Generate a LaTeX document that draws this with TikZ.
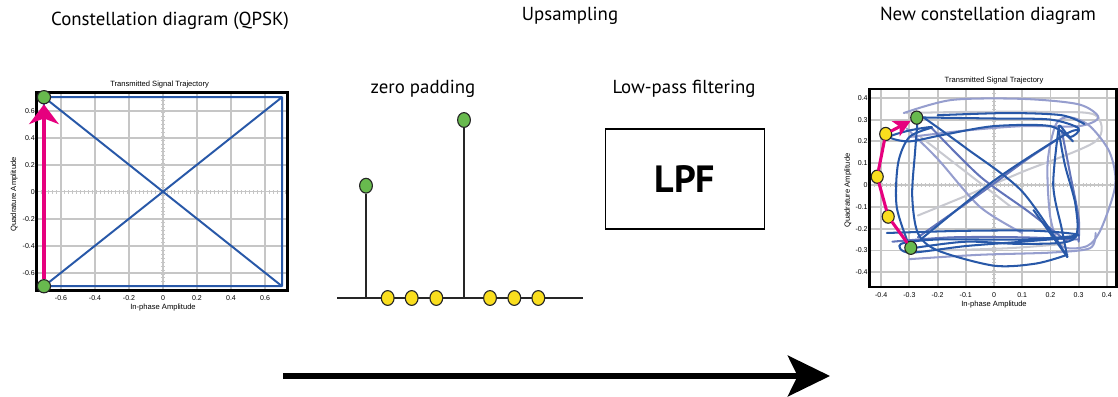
\documentclass[tikz,border=0pt]{standalone}
\usepackage{fontspec}
\setmainfont{PT Sans}
\newfontfamily\plotfont{Liberation Sans}
\usetikzlibrary{arrows.meta,shapes.geometric,positioning}

% colours
\definecolor{trajblue}{RGB}{40,88,168}
\definecolor{trajmid}{RGB}{98,116,186}
\definecolor{trajpale}{RGB}{150,158,206}
\definecolor{trajgrey}{RGB}{200,201,208}
\definecolor{gridgrey}{RGB}{198,198,198}
\definecolor{symgreen}{RGB}{104,186,78}
\definecolor{padyellow}{RGB}{250,222,30}
\definecolor{pathpink}{RGB}{230,0,126}

\tikzset{
 title/.style
  = {font=\fontsize{13.4}{15}\selectfont, inner sep=0pt},
 tick/.style
  = {font=\plotfont\fontsize{5}{6}\selectfont, inner sep=0pt},
 axlabel/.style
  = {font=\plotfont\fontsize{5.4}{6}\selectfont, inner sep=0pt},
 gridline/.style
  = {gridgrey, line width=1.3pt},
 zeroline/.style
  = {gridgrey, line width=2.6pt, dash pattern=on 0.7pt off 2.1pt},
 frame/.style
  = {line width=2pt, black},
 sym/.style
  = {ellipse, draw=black!85, line width=0.8pt, fill=symgreen, inner sep=0pt,
     minimum width=0.32cm, minimum height=0.37cm},
 pad/.style
  = {sym, fill=padyellow},
 stem/.style
  = {line width=1.1pt, black!85},
 traj/.style
  = {line width=1.45pt, line join=round, line cap=round},
 pinkpath/.style
  = {pathpink, line width=2.2pt, line cap=round, line join=round},
 flow/.style
  = {line width=3.9pt, -{Stealth[length=30pt, width=29pt, inset=7pt]}},
}

\begin{document}
\begin{tikzpicture}[x=0.025cm, y=-0.025cm]
\useasboundingbox (0,0) rectangle (1118,396);

% Headings
\node[title] (hqpsk) at (170,21) {Constellation diagram (QPSK)};
\node[title] (hup) at (570,16) {Upsampling};
\node[title] (hnew) at (988,16) {New constellation diagram};
\node[title] (hzero) at (423,89) {zero padding};
\node[title] (hlpf) at (684,89) {Low-pass filtering};

% QPSK trajectory plot
\begin{scope}[shift={(163,191.7)}, x=4.25cm, y=3.375cm]
  \foreach \v in {-0.6,-0.4,-0.2,0.2,0.4,0.6} {
    \draw[gridline] (\v,-0.73) -- (\v,0.735);
    \draw[gridline] (-0.743,\v) -- (0.73,\v);
  }
  \draw[gridgrey, line width=1pt] (0,-0.73) -- (0,0.735) (-0.743,0) -- (0.73,0);
  \draw[zeroline] (0,-0.73) -- (0,0.735);
  \draw[zeroline] (-0.743,0) -- (0.73,0);
  \draw[traj, trajblue, line width=1.4pt, line cap=butt]
    (-0.7,-0.7) rectangle (0.7,0.7)
    (-0.7,-0.7) -- (0.7,0.7) (-0.7,0.7) -- (0.7,-0.7);
  \draw[frame] (-0.743,-0.73) rectangle (0.73,0.735);
  \foreach \v [count=\i] in {-0.6,-0.4,-0.2,0,0.2,0.4,0.6} {
    \node[tick] (qx\i) at (\v,-0.787) {\v};
    \node[tick, anchor=east] (qy\i) at (-0.752,\v) {\v};
  }
  \node[axlabel] (qtitle) at (-0.02,0.797) {Transmitted Signal Trajectory};
  \node[axlabel] (qxlab) at (0,-0.855) {In-phase Amplitude};
  \node[axlabel, rotate=90] (qylab) at (-0.876,-0.02) {Quadrature Amplitude};
  % symbols
  \node[sym, minimum width=0.33cm, minimum height=0.33cm] (qlo) at (-0.7,-0.7) {};
  \node[sym, minimum width=0.33cm, minimum height=0.33cm] (qhi) at (-0.7,0.7) {};
  \draw[pinkpath, line width=2.8pt, line cap=butt,
        -{Stealth[length=14pt, width=21pt, inset=4pt]}] (qlo) -- (qhi);
\end{scope}

% Zero padding
\coordinate (zstart) at (337,298);
\coordinate (zend) at (583,298);
\draw[stem] (zstart) -- (zend);
\node[sym] (up1) at (366,185.7) {};
\node[sym] (up2) at (464,120) {};
\coordinate (up1base) at (366,298);
\coordinate (up2base) at (464,298);
\draw[stem] (up1base) -- (up1);
\draw[stem] (up2base) -- (up2);
\foreach \x [count=\i] in {387.7,411.7,436.3,490,514.3,538.3}
  \node[pad] (zp\i) at (\x,298) {};

% Filter block
\node[draw, line width=1pt, minimum width=3.965cm, minimum height=2.5cm,
      font=\bfseries\fontsize{27}{30}\selectfont] (lpf) at (685,179) {LPF};

% Filtered trajectory plot
\begin{scope}[shift={(994,185)}, x=7.05cm, y=5.45cm]
  \foreach \v in {-0.4,-0.3,-0.2,-0.1,0.1,0.2,0.3,0.4} {
    \draw[gridline] (\v,-0.468) -- (\v,0.44);
    \draw[gridline] (-0.44,\v) -- (0.433,\v);
  }
  \draw[gridgrey, line width=1pt] (0,-0.468) -- (0,0.44) (-0.44,0) -- (0.433,0);
  \draw[zeroline] (0,-0.468) -- (0,0.44);
  \draw[zeroline] (-0.44,0) -- (0.433,0);
  \begin{scope}
    \clip (-0.44,-0.468) rectangle (0.433,0.44);
    % faint passes
    \draw[traj, trajgrey] plot[smooth] coordinates {(-0.31,0.33) (-0.1,0.335) (0.2,0.335) (0.36,0.32) (0.36,0.2) (0.1,0.06) (-0.1,-0.05) (-0.27,-0.14)};
    \draw[traj, trajgrey] plot[smooth] coordinates {(-0.26,0.22) (-0.12,0.08) (0.06,-0.1)};
    \draw[traj, trajgrey] plot[smooth] coordinates {(-0.2,-0.3) (0.05,-0.29) (0.25,-0.27)};
    \draw[traj, trajpale] plot[smooth] coordinates {(-0.32,0.33) (-0.15,0.39) (0.1,0.395) (0.3,0.37) (0.37,0.31) (0.3,0.27) (0.1,0.27) (-0.1,0.25) (-0.3,0.22)};
    \draw[traj, trajpale] plot[smooth cycle] coordinates {(0.22,0.28) (0.19,0.1) (0.2,-0.15) (0.24,-0.28) (0.33,-0.28) (0.38,-0.2) (0.43,0) (0.41,0.15) (0.34,0.27) (0.27,0.31)};
    \draw[traj, trajpale] plot[smooth] coordinates {(-0.3,-0.34) (-0.05,-0.32) (0.2,-0.31) (0.34,-0.29) (0.36,-0.22)};
    \draw[traj, trajpale] plot[smooth] coordinates {(-0.31,0.26) (-0.2,0.12) (-0.05,-0.1) (0.1,-0.22)};
    \draw[traj, trajmid] plot[smooth] coordinates {(-0.27,-0.24) (-0.05,-0.04) (0.12,0.12) (0.25,0.23)};
    \draw[traj, trajmid] plot[smooth] coordinates {(-0.22,0.26) (-0.05,0.04) (0.12,-0.12) (0.26,-0.26)};
    \draw[traj, trajmid] plot[smooth] coordinates {(-0.36,-0.26) (-0.15,-0.24) (0.1,-0.24) (0.3,-0.25)};
    \draw[traj, trajmid] plot[smooth] coordinates {(0.24,0.25) (0.27,0.05) (0.3,-0.15) (0.3,-0.26)};
    % dominant passes
    \draw[traj, trajblue] plot[smooth] coordinates {(-0.27,0.31) (0,0.305) (0.2,0.30) (0.3,0.26) (0.27,0.22) (0.23,0.27) (0.25,0.1) (0.29,-0.1) (0.28,-0.25) (0.1,-0.27) (-0.1,-0.26) (-0.29,-0.29)};
    \draw[traj, trajblue] plot[smooth] coordinates {(-0.25,0.31) (-0.1,0.17) (0.1,-0.03) (0.26,-0.33)};
    \draw[traj, trajblue] (0.26,-0.33) -- (0.14,-0.115);
    \draw[traj, trajblue] plot[smooth] coordinates {(-0.30,-0.28) (-0.345,-0.1) (-0.34,0.1) (-0.3,0.22) (-0.22,0.265) (-0.3,0.25) (-0.37,0.22) (-0.3,0.2) (-0.18,0.23) (0,0.27) (0.2,0.27) (0.28,0.2)};
    \draw[traj, trajblue] plot[smooth] coordinates {(-0.27,0.31) (-0.28,0.15) (-0.29,-0.05) (-0.27,-0.22) (-0.2,-0.3) (0,-0.37) (0.15,-0.36) (0.26,-0.32)};
    \draw[traj, trajblue] plot[smooth] coordinates {(-0.38,-0.22) (-0.1,-0.21) (0.15,-0.21) (0.3,-0.23) (0.1,-0.25) (-0.2,-0.25) (-0.33,-0.27) (-0.3,-0.31) (-0.1,-0.28) (0.1,-0.26) (0.29,-0.24)};
    \draw[traj, trajblue] plot[smooth] coordinates {(0.23,0.27) (0.21,0.0) (0.24,-0.2) (0.26,-0.33)};
    \draw[traj, trajblue] plot[smooth] coordinates {(-0.26,-0.25) (0,0.02) (0.25,0.23) (0.3,0.25)};
    \draw[traj, trajblue] plot[smooth] coordinates {(-0.2,0.32) (0.05,0.33) (0.24,0.32) (0.32,0.28)};
  \end{scope}
  \draw[frame] (-0.44,-0.468) rectangle (0.433,0.44);
  \foreach \v [count=\i] in {-0.4,-0.3,-0.2,-0.1,0,0.1,0.2,0.3,0.4} {
    \node[tick] (nx\i) at (\v,-0.505) {\v};
    \node[tick, anchor=east] (ny\i) at (-0.447,\v) {\v};
  }
  \node[axlabel] (ntitle) at (0,0.478) {Transmitted Signal Trajectory};
  \node[axlabel] (nxlab) at (0,-0.55) {In-phase Amplitude};
  \node[axlabel, rotate=90] (nylab) at (-0.518,-0.026) {Quadrature Amplitude};
  % interpolated symbols
  \node[sym, minimum width=0.3cm, minimum height=0.33cm] (ng1) at (-0.274,0.309) {};
  \node[pad, minimum width=0.3cm, minimum height=0.33cm] (ny1) at (-0.384,0.234) {};
  \node[pad, minimum width=0.3cm, minimum height=0.33cm] (ny2) at (-0.414,0.038) {};
  \node[pad, minimum width=0.3cm, minimum height=0.33cm] (ny3) at (-0.375,-0.145) {};
  \node[sym, minimum width=0.3cm, minimum height=0.33cm] (ng0) at (-0.295,-0.288) {};
  \draw[pinkpath] (ng0) -- (ny3) -- (ny2) -- (ny1);
  \draw[pinkpath, -{Stealth[length=12pt, width=12pt, inset=3pt]}] (ny1) -- (ng1);
\end{scope}

% Processing direction
\coordinate (flowstart) at (283,376);
\coordinate (flowend) at (830,376);
\draw[flow] (flowstart) -- (flowend);

\end{tikzpicture}
\end{document}
